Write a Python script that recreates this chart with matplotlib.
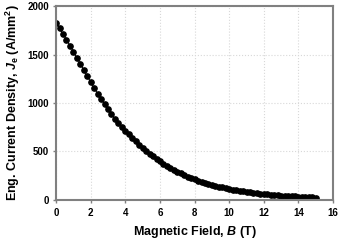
import matplotlib
matplotlib.use("Agg")
import matplotlib.pyplot as plt
import numpy as np

field_T = [round(0.2 * i, 1) for i in range(76)]
current_density = [
    1825, 1770, 1712, 1652, 1592, 1530, 1467, 1404, 1340, 1277,
    1215, 1154, 1096, 1040, 985, 933, 884, 838, 794, 753,
    714, 675, 638, 603, 569, 537, 506, 477, 449, 422,
    397, 373, 351, 330, 310, 291, 273, 257, 241, 226,
    212, 199, 187, 176, 165, 155, 146, 137, 129, 121,
    114, 107, 100, 94, 88, 83, 78, 73, 69, 64,
    60, 57, 53, 50, 47, 44, 41, 39, 37, 35,
    33, 31, 29, 27, 25, 23,
]
x_ticks = [0, 2, 4, 6, 8, 10, 12, 14, 16]
y_ticks = [0, 500, 1000, 1500, 2000]

plt.rcParams['font.family'] = ['Liberation Sans', 'DejaVu Sans']
plt.rcParams['mathtext.fontset'] = 'custom'
plt.rcParams['mathtext.rm'] = 'Liberation Sans:bold'
plt.rcParams['mathtext.it'] = 'Liberation Sans:bold:italic'
plt.rcParams['mathtext.bf'] = 'Liberation Sans:bold'

fig = plt.figure(figsize=(3.42, 2.42), dpi=100)
ax = fig.add_axes([0.164, 0.174, 0.810, 0.801])

ax.plot(field_T, current_density, color='black', lw=0.8, marker='o',
        markersize=3.8, markerfacecolor='black', markeredgecolor='black')

ax.set_xlim(0, 16)
ax.set_ylim(0, 2000)
ax.set_xticks(x_ticks)
ax.set_yticks(y_ticks)
ax.grid(True, color='#d8d8d8', linestyle=':', linewidth=0.8)
ax.set_axisbelow(True)

for s in ax.spines.values():
    s.set_color('#808080')
    s.set_linewidth(1.5)

ax.tick_params(axis='both', colors='#808080', length=2.5, width=1.0,
               labelsize=7, labelcolor='black')
ax.tick_params(axis='x', pad=3.5)
ax.tick_params(axis='y', pad=2.5)
for lab in ax.get_xticklabels() + ax.get_yticklabels():
    lab.set_fontweight('bold')

ax.set_xlabel(r'Magnetic Field, $\mathit{B}$ (T)', fontsize=9,
              fontweight='bold', labelpad=4.5)
ax.set_ylabel(r'Eng. Current Density, $\mathit{J}_{\mathrm{e}}$ (A/mm$^{\mathrm{2}}$)',
              fontsize=9, fontweight='bold', labelpad=4)

fig.savefig('out.png', dpi=100)
